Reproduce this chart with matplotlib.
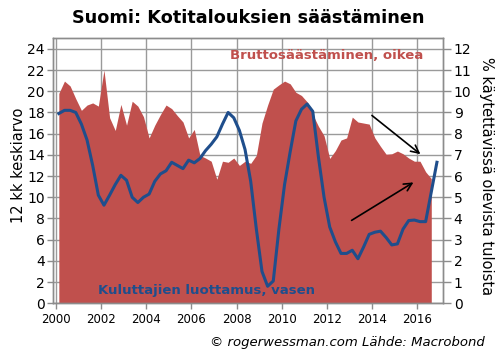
import numpy as np
import matplotlib
matplotlib.use("Agg")
import matplotlib.pyplot as plt

# Quarterly positions: 2000Q1 .. 2016Q4 (mid-quarter)
start_year = 2000.125

# Gross household savings rate, % of disposable income (right axis), 2000Q1-2016Q3
savings = [9.9, 10.48, 10.25, 9.65, 9.1, 9.35, 9.45, 9.3, 11.0, 8.75,
           8.15, 9.38, 8.4, 9.53, 9.3, 8.8, 7.8, 8.4, 8.9, 9.35,
           9.18, 8.85, 8.55, 7.8, 8.2, 6.98, 6.85, 6.7, 5.85, 6.7,
           6.65, 6.85, 6.5, 6.7, 6.6, 6.98, 8.5, 9.35, 10.1, 10.3,
           10.48, 10.35, 9.95, 9.8, 9.5, 8.9, 8.35, 7.9, 6.83, 7.2,
           7.7, 7.8, 8.78, 8.55, 8.5, 8.45, 7.8, 7.4, 7.03, 7.05,
           7.18, 7.05, 6.85, 6.7, 6.7, 6.2, 5.88]

# Consumer confidence, 12-month average (left axis), 2000Q1-2016Q4
confidence = [17.9, 18.2, 18.2, 18.0, 16.9, 15.4, 13.0, 10.2, 9.25, 10.2,
              11.2, 12.07, 11.6, 10.0, 9.5, 10.0, 10.3, 11.5, 12.2, 12.5,
              13.3, 13.0, 12.7, 13.5, 13.25, 13.65, 14.4, 15.0, 15.7, 16.9,
              18.0, 17.5, 16.3, 14.5, 11.5, 7.0, 3.0, 1.6, 2.1, 7.0,
              11.2, 14.3, 17.2, 18.3, 18.8, 18.1, 13.8, 10.0, 7.2, 5.8,
              4.7, 4.7, 5.0, 4.2, 5.3, 6.5, 6.7, 6.8, 6.2, 5.5,
              5.6, 7.0, 7.8, 7.85, 7.7, 7.7, 10.5, 13.3]

x_ticks = [2000, 2002, 2004, 2006, 2008, 2010, 2012, 2014, 2016]
left_ticks = list(range(0, 25, 2))
right_ticks = list(range(0, 13, 1))

title = "Suomi: Kotitalouksien säästäminen"
left_label = "12 kk keskiarvo"
right_label = "% käytettävissä olevista tuloista"
savings_label = "Bruttosäästäminen, oikea"
conf_label = "Kuluttajien luottamus, vasen"
source = "© rogerwessman.com Lähde: Macrobond"

red = "#c0504d"
blue = "#1f4e8c"
grid_c = "#9a9a9a"
spine_c = "#8c8c8c"

x_sav = start_year + 0.25 * np.arange(len(savings))
x_conf = start_year + 0.25 * np.arange(len(confidence))

fig = plt.figure(figsize=(4.96, 3.61), dpi=100)
ax2 = fig.add_axes([0.107, 0.16, 0.7855, 0.734])  # right axis (fill + grid)
ax = ax2.twinx()
ax2.yaxis.tick_right()
ax2.yaxis.set_label_position("right")
ax.yaxis.tick_left()
ax.yaxis.set_label_position("left")
ax.set_zorder(ax2.get_zorder() + 1)
ax.patch.set_visible(False)

ax2.fill_between(x_sav, 0, savings, color=red, linewidth=0, zorder=2)
ax2.set_ylim(0, 12.5)
ax2.set_yticks(right_ticks)
ax2.set_xlim(1999.87, 2017.13)
ax2.set_xticks(x_ticks)
ax2.grid(True, color=grid_c, linewidth=1.0, zorder=0)
ax2.set_axisbelow(True)

ax.plot(x_conf, confidence, color=blue, linewidth=2.2, zorder=3)
ax.set_ylim(0, 25)
ax.set_yticks(left_ticks)
ax.set_xlim(1999.87, 2017.13)

for a in (ax, ax2):
    for s in a.spines.values():
        s.set_color(spine_c)
        s.set_linewidth(1.0)
    a.tick_params(colors=spine_c, labelcolor="black", length=4, width=1.0)

ax.tick_params(axis="y", labelsize=10, pad=2)
ax2.tick_params(axis="y", labelsize=10, pad=2, length=6)
ax2.tick_params(axis="x", labelsize=8.5, pad=3)

ax.set_ylabel(left_label, fontsize=10.5, labelpad=2)
ax2.set_ylabel(right_label, fontsize=10.5, rotation=270, labelpad=10, va="center")
ax2.yaxis.set_label_coords(1.112, 0.48)
ax.yaxis.set_label_coords(-0.07, 0.52)

ax.text(2012.0, 23.4, savings_label, color=red, fontsize=9.5, fontweight="bold",
        ha="center", va="center", zorder=5)
ax.text(2006.67, 1.2, conf_label, color=blue, fontsize=9.5, fontweight="bold",
        ha="center", va="center", zorder=5)

ax.annotate("", xy=(2016.24, 13.9), xytext=(2013.9, 17.88),
            arrowprops=dict(arrowstyle="->", color="black", lw=1.2,
                            mutation_scale=14), zorder=6)
ax.annotate("", xy=(2015.94, 11.54), xytext=(2012.99, 7.68),
            arrowprops=dict(arrowstyle="->", color="black", lw=1.2,
                            mutation_scale=14), zorder=6)

fig.text(0.5, 0.95, title, ha="center", va="center", fontsize=12.7,
         fontweight="bold")
fig.text(0.978, 0.05, source, ha="right", va="center", fontsize=9.5,
         style="italic")

fig.savefig("out.png", dpi=100)
